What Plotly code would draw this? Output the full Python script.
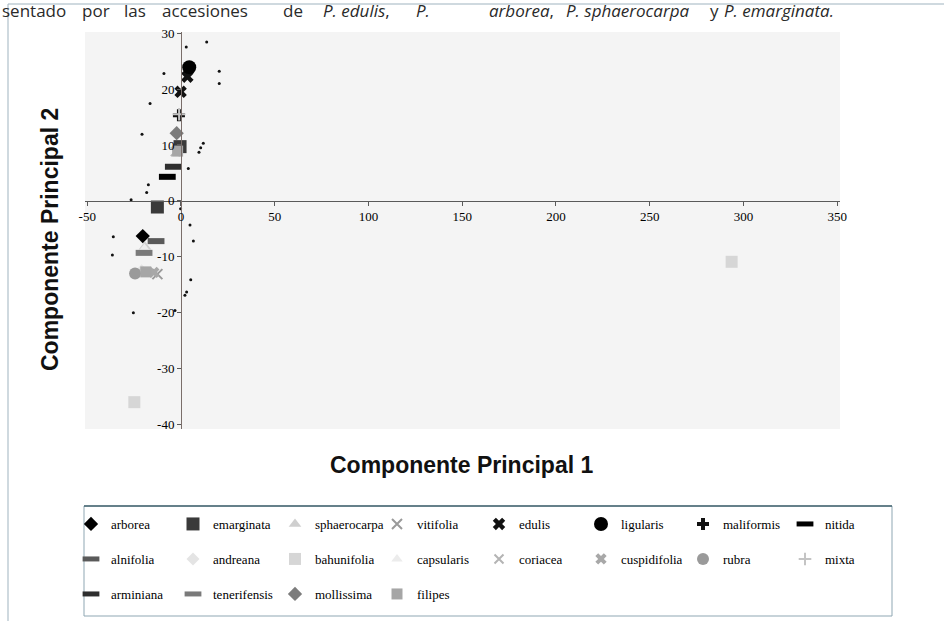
import plotly.graph_objects as go

# Principal component scores per species (CP1, CP2)
species = ["arborea", "emarginata", "sphaerocarpa", "vitifolia", "edulis", "ligularis",
           "maliformis", "nitida", "alnifolia", "andreana", "bahunifolia", "capsularis",
           "coriacea", "cuspidifolia", "rubra", "mixta", "arminiana", "tenerifensis",
           "mollissima", "filipes"]

pc1 = {
    "arborea": [-20.4], "emarginata": [-12.6, -0.5], "sphaerocarpa": [-19.2],
    "vitifolia": [-12.6], "edulis": [3.4, -0.2], "ligularis": [4.4],
    "maliformis": [-1.1], "nitida": [-7.3], "alnifolia": [-13.3],
    "andreana": [-21.0], "bahunifolia": [-24.9, 293.7], "capsularis": [-19.5],
    "coriacea": [-3.0], "cuspidifolia": [-14.5], "rubra": [-24.5], "mixta": [-1.0],
    "arminiana": [-4.1], "tenerifensis": [-19.7], "mollissima": [-2.3],
    "filipes": [-1.8, -18.8],
}
pc2 = {
    "arborea": [-6.3], "emarginata": [-1.1, 9.7], "sphaerocarpa": [-8.2],
    "vitifolia": [-13.1], "edulis": [22.2, 19.5], "ligularis": [23.9],
    "maliformis": [15.3], "nitida": [4.3], "alnifolia": [-7.2],
    "andreana": [-12.5], "bahunifolia": [-36.0, -10.9], "capsularis": [-8.5],
    "coriacea": [8.8], "cuspidifolia": [-12.8], "rubra": [-13.0], "mixta": [15.5],
    "arminiana": [6.1], "tenerifensis": [-9.3], "mollissima": [12.1],
    "filipes": [8.9, -12.7],
}

# Remaining accessions (small dots)
other_pc1 = [2.8, 13.7, -9.1, 20.4, 20.4, -16.5, -20.8, 11.9, 10.5, 9.6, 3.9, -17.4,
             -18.3, -26.6, -0.2, 4.8, 6.6, -36.1, -36.6, 5.2, 3.0, 2.1, -25.4, -3.2]
other_pc2 = [27.5, 28.4, 22.8, 23.2, 21.0, 17.4, 11.9, 10.3, 9.5, 8.7, 5.8, 2.9,
             1.5, 0.2, -1.4, -4.3, -7.2, -6.4, -9.7, -14.1, -16.3, -16.9, -20.0, -19.6]

x_ticks = [-50, 0, 50, 100, 150, 200, 250, 300, 350]
x_tick_text = ["-50", "0", "50", "100", "150", "200", "250", "300", "350"]
y_ticks = [-40, -30, -20, -10, 0, 10, 20, 30]
y_tick_text = ["-40", "-30", "-20", "-10", "0", "10", "20", "30"]

# symbol, colour, size, line width, legend row
style = {
    "arborea": ("diamond", "#000000", 11, 0, "legend"),
    "emarginata": ("square", "#3a3a3a", 13, 0, "legend"),
    "sphaerocarpa": ("triangle-up", "#cfcfcf", 11, 0, "legend"),
    "vitifolia": ("x-thin-open", "#9a9a9a", 10, 2, "legend"),
    "edulis": ("x", "#111111", 11, 0, "legend"),
    "ligularis": ("circle", "#000000", 14, 0, "legend"),
    "maliformis": ("cross", "#111111", 10, 0, "legend"),
    "nitida": ("line-ew-open", "#000000", 12, 6, "legend"),
    "alnifolia": ("line-ew-open", "#5a5a5a", 12, 6, "legend2"),
    "andreana": ("diamond", "#e4e4e4", 10, 0, "legend2"),
    "bahunifolia": ("square", "#d6d6d6", 12, 0, "legend2"),
    "capsularis": ("triangle-up", "#ececec", 10, 0, "legend2"),
    "coriacea": ("x-thin-open", "#b4b4b4", 9, 2, "legend2"),
    "cuspidifolia": ("x", "#a8a8a8", 10, 0, "legend2"),
    "rubra": ("circle", "#9a9a9a", 12, 0, "legend2"),
    "mixta": ("cross-thin-open", "#c4c4c4", 9, 2, "legend2"),
    "arminiana": ("line-ew-open", "#2e2e2e", 12, 6, "legend3"),
    "tenerifensis": ("line-ew-open", "#7a7a7a", 12, 6, "legend3"),
    "mollissima": ("diamond", "#7c7c7c", 11, 0, "legend3"),
    "filipes": ("square", "#a6a6a6", 11, 0, "legend3"),
}

fig = go.Figure()

fig.add_trace(go.Scatter(
    x=other_pc1, y=other_pc2, mode="markers", showlegend=False,
    marker=dict(symbol="circle", size=3, color="#111111"), hoverinfo="skip",
))

for name in species:
    sym, col, size, lw, leg = style[name]
    marker = dict(symbol=sym, size=size, color=col)
    if lw:
        marker["line"] = dict(width=lw, color=col)
    else:
        marker["line"] = dict(width=0)
    fig.add_trace(go.Scatter(
        x=pc1[name], y=pc2[name], mode="markers", name=name,
        marker=marker, legend=leg,
    ))

W, H = 944, 621
ml, mr, mt, mb = 85, 104, 32, 192
pw, ph = W - ml - mr, H - mt - mb


def px(x):
    return (x - ml) / pw


def py(y):
    return (H - mb - y) / ph


x_range = [-51.2, 351.5]
y_range = [-40.8, 30.2]

tick_font = dict(family="Liberation Serif", size=13, color="#000000")
legend_font = dict(family="Liberation Serif", size=13, color="#000000")

fig.update_layout(
    width=W, height=H,
    margin=dict(l=ml, r=mr, t=mt, b=mb),
    paper_bgcolor="#ffffff",
    plot_bgcolor="#f4f4f4",
    xaxis=dict(
        range=x_range, showgrid=False, zeroline=False,
        tickvals=x_ticks, ticktext=x_tick_text, tickfont=tick_font,
        showline=True, linecolor="#5a5a5a", linewidth=1,
        ticks="outside", ticklen=4, tickcolor="#5a5a5a",
        anchor="free", position=(0 - y_range[0]) / (y_range[1] - y_range[0]),
    ),
    yaxis=dict(
        range=y_range, showgrid=False, zeroline=False,
        tickvals=y_ticks, ticktext=y_tick_text, tickfont=tick_font,
        showline=True, linecolor="#7a6e6a", linewidth=1,
        ticks="outside", ticklen=4, tickcolor="#5a5a5a",
        anchor="free", position=(0 - x_range[0]) / (x_range[1] - x_range[0]),
    ),
    showlegend=True,
)

for i, leg in enumerate(["legend", "legend2", "legend3"]):
    fig.update_layout({leg: dict(
        orientation="h", x=px(71), xanchor="left",
        y=py(524 + 35 * i), yanchor="middle",
        bgcolor="rgba(0,0,0,0)", borderwidth=0,
        font=legend_font, entrywidth=57, itemwidth=30,
        traceorder="normal",
    )})

# Legend frame
fig.add_shape(type="rect", xref="paper", yref="paper",
              x0=px(84), x1=px(892), y0=py(506), y1=py(616),
              line=dict(color="#8fa7b3", width=1), fillcolor="rgba(0,0,0,0)", layer="below")
fig.add_shape(type="line", xref="paper", yref="paper",
              x0=px(84), x1=px(892), y0=py(506), y1=py(506),
              line=dict(color="#44646f", width=1.5))
# Outer frame lines
fig.add_shape(type="line", xref="paper", yref="paper",
              x0=px(8), x1=px(8), y0=py(4), y1=py(621),
              line=dict(color="#9fb3bf", width=1))
fig.add_shape(type="line", xref="paper", yref="paper",
              x0=px(8), x1=px(944), y0=py(4), y1=py(4),
              line=dict(color="#9fb3bf", width=1))

# Axis titles
title_font = dict(family="Liberation Sans", size=23, color="#111111")
fig.add_annotation(text="<b>Componente Principal 1</b>", xref="paper", yref="paper",
                   x=px(461), y=py(465), xanchor="center", yanchor="middle",
                   showarrow=False, font=title_font)
fig.add_annotation(text="<b>Componente Principal 2</b>", xref="paper", yref="paper",
                   x=px(50), y=py(240), xanchor="center", yanchor="middle",
                   showarrow=False, font=title_font, textangle=-90)

# Caption fragment above the chart
cap_font = dict(family="Open Sans", size=17, color="#2a2a2a")
words = [("sentado", 0), ("por", 80), ("las", 122),
         ("accesiones", 160), ("de", 281),
         ("<i>P. edulis</i>,", 321), ("<i>P.</i>", 414),
         ("<i>arborea</i>,", 487), ("<i>P. sphaerocarpa</i>", 564),
         ("y", 708), ("<i>P. emarginata.</i>", 722)]
for txt, x0 in words:
    fig.add_annotation(text=txt, xref="paper", yref="paper", x=px(x0), y=py(11),
                       xanchor="left", yanchor="middle", showarrow=False, font=cap_font)

fig.write_html("out.html")
